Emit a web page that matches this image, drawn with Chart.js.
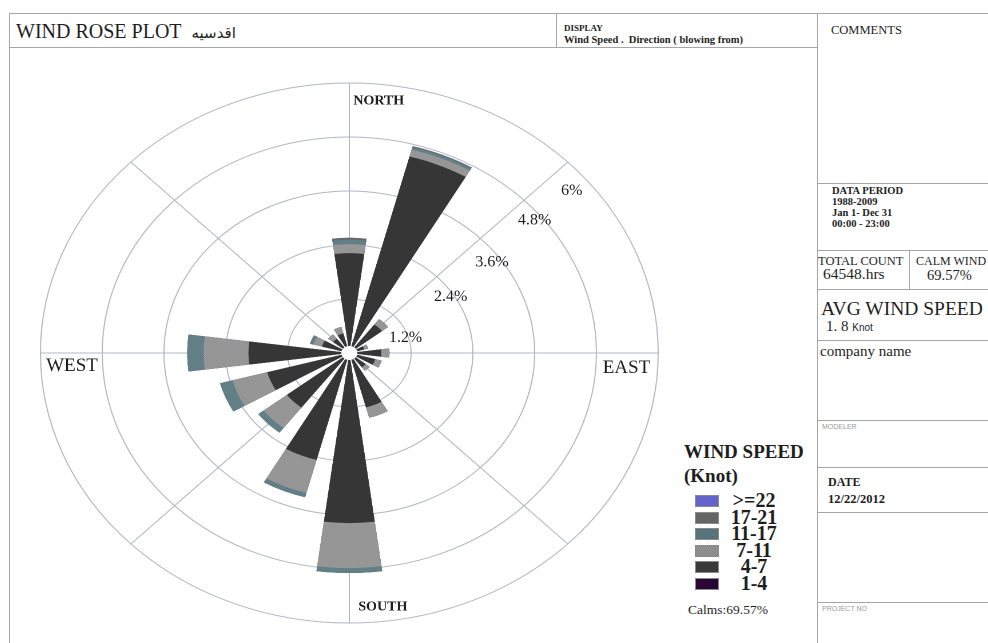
<!DOCTYPE html>
<html lang="en">

<head>
    <meta charset="UTF-8">
    <title>Wind Rose Plot</title>
    <script src="https://cdn.jsdelivr.net/npm/chart.js"></script>
    <style>
        body {
            margin: 0;
            background: #fff;
            font-family: "Liberation Serif", "DejaVu Sans", serif;
            color: #1e1e1e;
        }

        #page {
            position: relative;
            width: 988px;
            height: 643px;
            overflow: hidden;
        }

        .hl { position: absolute; height: 0; border-top: 1.5px solid #a6a6a6; }
        .vl { position: absolute; width: 0; border-left: 1.5px solid #a6a6a6; }
        .t { position: absolute; white-space: nowrap; line-height: 1; transform: translateY(-50%); }
        .b { font-weight: bold; }
        .tiny { font-family: "Liberation Sans", sans-serif; font-size: 7px; color: #9a9a9a; }

        /* the rose is drawn round and stretched sideways like the scanned form */
        #roseWrap {
            position: absolute;
            left: 29px;
            top: 73px;
            width: 560px;
            height: 560px;
            transform: scaleX(1.144);
            transform-origin: 0 0;
        }

        .sw { position: absolute; left: 695px; width: 24px; height: 12px; box-sizing: border-box; border: 1px solid #8a8a8a; }
        .lg { position: absolute; left: 754px; font-weight: bold; font-size: 20px; line-height: 1; transform: translate(-50%, -50%); white-space: nowrap; }
    </style>
</head>

<body>
    <div id="page">
        <!-- form lines -->
        <div class="hl" style="left:9px; top:13px; width:979px;"></div>
        <div class="vl" style="left:9px; top:13px; height:630px;"></div>
        <div class="hl" style="left:9px; top:47px; width:808px;"></div>
        <div class="vl" style="left:556px; top:13px; height:34px;"></div>
        <div class="vl" style="left:817px; top:13px; height:630px;"></div>
        <div class="hl" style="left:817px; top:183px; width:171px;"></div>
        <div class="hl" style="left:817px; top:250px; width:171px;"></div>
        <div class="vl" style="left:909px; top:250px; height:39px;"></div>
        <div class="hl" style="left:817px; top:289px; width:171px;"></div>
        <div class="hl" style="left:817px; top:340px; width:171px;"></div>
        <div class="hl" style="left:817px; top:420px; width:171px;"></div>
        <div class="hl" style="left:817px; top:467px; width:171px;"></div>
        <div class="hl" style="left:817px; top:512px; width:171px;"></div>
        <div class="hl" style="left:817px; top:602px; width:171px;"></div>

        <!-- header -->
        <div class="t" style="left:16px; top:31px; font-size:20px;">WIND ROSE PLOT&nbsp; <span style="font-family:'DejaVu Sans'; font-size:15px;">اقدسيه</span></div>
        <div class="t b" style="left:564px; top:28px; font-size:9px;">DISPLAY</div>
        <div class="t b" style="left:564px; top:40px; font-size:10.5px;">Wind Speed .&nbsp; Direction ( blowing from)</div>

        <!-- right column -->
        <div class="t" style="left:831px; top:30px; font-size:12.5px;">COMMENTS</div>
        <div class="t b" style="left:832px; top:191px; font-size:10.5px;">DATA PERIOD</div>
        <div class="t b" style="left:832px; top:202px; font-size:10.5px;">1988-2009</div>
        <div class="t b" style="left:832px; top:213px; font-size:10.5px;">Jan 1- Dec 31</div>
        <div class="t b" style="left:832px; top:224px; font-size:10.5px;">00:00 - 23:00</div>
        <div class="t" style="left:818px; top:261px; font-size:12.5px;">TOTAL COUNT</div>
        <div class="t" style="left:823px; top:274px; font-size:15.5px;">64548.hrs</div>
        <div class="t" style="left:916px; top:261px; font-size:12px;">CALM WIND</div>
        <div class="t" style="left:927px; top:275px; font-size:14.5px;">69.57%</div>
        <div class="t" style="left:821px; top:309px; font-size:19.5px;">AVG WIND SPEED</div>
        <div class="t" style="left:826px; top:326px; font-size:15px;">1. 8 <span style="font-family:'Liberation Sans'; font-size:10px;">Knot</span></div>
        <div class="t" style="left:820px; top:351px; font-size:15px;">company name</div>
        <div class="t tiny" style="left:822px; top:426px;">MODELER</div>
        <div class="t b" style="left:828px; top:482px; font-size:12px;">DATE</div>
        <div class="t b" style="left:828px; top:499px; font-size:12.5px;">12/22/2012</div>
        <div class="t tiny" style="left:822px; top:608px;">PROJECT NO</div>

        <!-- legend -->
        <div class="t b" style="left:684px; top:451px; font-size:19px;">WIND SPEED</div>
        <div class="t b" style="left:684px; top:475px; font-size:19px;">(Knot)</div>
        <div id="legend"></div>
        <div class="t" style="left:688px; top:610px; font-size:13.5px;">Calms:69.57%</div>

        <div id="roseWrap"><canvas id="roseChart"></canvas></div>
    </div>

    <script>
        // 16 directions, wind blowing from, clockwise from north
        const directions = ['N', 'NNE', 'NE', 'ENE', 'E', 'ESE', 'SE', 'SSE',
            'S', 'SSW', 'SW', 'WSW', 'W', 'WNW', 'NW', 'NNW'];

        // frequency (%) of each speed band per direction
        const speed1to4 = [0.15, 0.15, 0.12, 0.10, 0.12, 0.10, 0.10, 0.15, 0.15, 0.15, 0.15, 0.15, 0.15, 0.12, 0.10, 0.10];
        const speed4to7 = [2.07, 4.37, 0.68, 0.20, 0.50, 0.42, 0.30, 1.10, 3.63, 2.31, 1.38, 1.50, 1.81, 0.43, 0.30, 0.35];
        const speed7to11 = [0.20, 0.16, 0.15, 0.08, 0.16, 0.13, 0.10, 0.24, 1.00, 0.76, 0.57, 0.70, 0.87, 0.17, 0.12, 0.15];
        const speed11to17 = [0.10, 0.06, 0.00, 0.00, 0.00, 0.00, 0.00, 0.00, 0.11, 0.10, 0.13, 0.25, 0.32, 0.07, 0.00, 0.00];
        const speed17to21 = [0.04, 0.02, 0.00, 0.00, 0.00, 0.00, 0.00, 0.00, 0.00, 0.00, 0.00, 0.00, 0.00, 0.00, 0.00, 0.00];
        const speed22up = [0, 0, 0, 0, 0, 0, 0, 0, 0, 0, 0, 0, 0, 0, 0, 0];

        const speedBands = ['1-4', '4-7', '7-11', '11-17', '17-21', '>=22'];
        const radialTicks = [1.2, 2.4, 3.6, 4.8, 6];
        const compassLabels = ['NORTH', 'EAST', 'SOUTH', 'WEST'];

        const SX = 1.144;      // sideways stretch of the rose
        const WEDGE = 15;      // degrees covered by a petal
        const GAP = 360 / directions.length - WEDGE;

        function dotPattern(base, dot) {
            const c = document.createElement('canvas');
            c.width = 2; c.height = 2;
            const g = c.getContext('2d');
            g.fillStyle = base; g.fillRect(0, 0, 2, 2);
            g.fillStyle = dot; g.fillRect(0, 0, 1, 1); g.fillRect(1, 1, 1, 1);
            return g.createPattern(c, 'repeat');
        }

        const bandFills = [
            '#2a0a33',
            '#363636',
            dotPattern('#a2a2a2', '#8a8a8a'),
            dotPattern('#6d8d94', '#58737a'),
            dotPattern('#727272', '#5e5e5e'),
            dotPattern('#7373de', '#5d5dc8')
        ];
        const legendCss = ['#2a0634', '#3a3a3a', '#969696', '#5d7c82', '#6c6c6c', '#6a6ad8'];

        // cumulative radius of each band, petals interleaved with empty gaps
        const bands = [speed1to4, speed4to7, speed7to11, speed11to17, speed17to21, speed22up];
        const cumulative = bands.map((_, b) => directions.map((d, i) => {
            let s = 0;
            for (let k = 0; k <= b; k++) s += bands[k][i];
            return +s.toFixed(2);
        }));
        const withGaps = arr => arr.flatMap(v => [v, 0]);
        const slotLabels = directions.flatMap(d => [d, '']);

        const roseDecor = {
            id: 'roseDecor',
            beforeDatasetsDraw(chart) {
                const s = chart.scales.r;
                const ctx = chart.ctx;
                const R = s.getDistanceFromCenterForValue(s.max);
                ctx.save();
                ctx.strokeStyle = '#b3b6c4';
                ctx.lineWidth = 1;
                for (let k = 0; k < 8; k++) {
                    const a = k * Math.PI / 4;
                    ctx.beginPath();
                    ctx.moveTo(s.xCenter, s.yCenter);
                    ctx.lineTo(s.xCenter + R * Math.sin(a), s.yCenter - R * Math.cos(a));
                    ctx.stroke();
                }
                ctx.restore();
            },
            afterDatasetsDraw(chart) {
                const s = chart.scales.r;
                const ctx = chart.ctx;
                const R = s.getDistanceFromCenterForValue(s.max);
                const xc = s.xCenter, yc = s.yCenter;

                // calm hole
                ctx.save();
                ctx.fillStyle = '#fff';
                ctx.beginPath();
                ctx.arc(xc, yc, 7, 0, Math.PI * 2);
                ctx.fill();
                ctx.restore();

                // text is squeezed back so it is not stretched with the rose
                const put = (str, x, y, font, align) => {
                    ctx.save();
                    ctx.translate(x, y);
                    ctx.scale(1 / SX, 1);
                    ctx.font = font;
                    ctx.fillStyle = '#1e1e1e';
                    ctx.textAlign = align;
                    ctx.textBaseline = 'middle';
                    ctx.fillText(str, 0, 0);
                    ctx.restore();
                };

                const spots = [[0.91, -0.28], [0.82, -0.52], [0.77, -0.56], [0.75, -0.615], [0.72, -0.6]];
                radialTicks.forEach((v, i) => {
                    const r = s.getDistanceFromCenterForValue(v);
                    put(v + '%', xc + r * spots[i][0], yc + r * spots[i][1], '16px "Liberation Serif"', 'center');
                });

                put(compassLabels[0], xc + 4 / SX, yc - R + 18, 'bold 14px "Liberation Serif"', 'left');
                put(compassLabels[1], xc + R - 7, yc + 15, '19px "Liberation Serif"', 'right');
                put(compassLabels[2], xc + 9 / SX, yc + R - 16, 'bold 14px "Liberation Serif"', 'left');
                put(compassLabels[3], xc - R + 5, yc + 13, '19px "Liberation Serif"', 'left');
            }
        };

        const ctx = document.getElementById('roseChart').getContext('2d');
        const chart = new Chart(ctx, {
            type: 'polarArea',
            data: {
                labels: slotLabels,
                datasets: speedBands.map((band, b) => ({
                    label: band,
                    data: withGaps(cumulative[b]),
                    backgroundColor: bandFills[b],
                    borderWidth: 0,
                    angle: c => (c.dataIndex % 2 === 0 ? WEDGE : GAP)
                }))
            },
            options: {
                responsive: true,
                maintainAspectRatio: false,
                animation: false,
                devicePixelRatio: 2,
                layout: { padding: 10 },
                scales: {
                    r: {
                        min: 0,
                        max: 6,
                        startAngle: -WEDGE / 2,
                        ticks: { display: false, stepSize: 1.2 },
                        grid: { color: '#b3b6c4', lineWidth: 1 },
                        angleLines: { display: false },
                        pointLabels: { display: false }
                    }
                },
                plugins: {
                    legend: { display: false },
                    tooltip: { enabled: false }
                }
            },
            plugins: [roseDecor]
        });

        // legend, strongest band on top
        const legend = document.getElementById('legend');
        speedBands.slice().reverse().forEach((band, i) => {
            const b = speedBands.length - 1 - i;
            const top = 495 + i * 16.6;
            const sw = document.createElement('div');
            sw.className = 'sw';
            sw.style.top = top + 'px';
            sw.style.backgroundColor = legendCss[b];
            if (b >= 2) {
                sw.style.backgroundImage = 'repeating-conic-gradient(rgba(0,0,0,0.12) 0 25%, transparent 0 50%)';
                sw.style.backgroundSize = '2px 2px';
            }
            legend.appendChild(sw);
            const lb = document.createElement('div');
            lb.className = 'lg';
            lb.style.top = (top + 5) + 'px';
            lb.textContent = band;
            legend.appendChild(lb);
        });
    </script>
</body>

</html>
